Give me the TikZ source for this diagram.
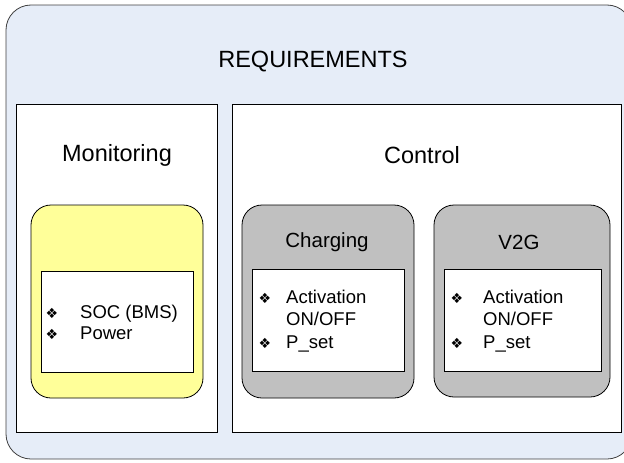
\documentclass[tikz,border=0pt]{standalone}
\usepackage{fontspec}
\setmainfont{Liberation Sans}
\newfontfamily\symfont{DejaVu Sans}
\definecolor{reqblue}{RGB}{230,237,248}
\definecolor{monyellow}{RGB}{255,255,153}
\definecolor{ctrlgray}{RGB}{192,192,192}
\definecolor{edgegray}{RGB}{64,64,64}
% bullet hanging left of the item text
\newcommand{\itm}[1]{\leavevmode\llap{{\symfont\fontsize{14}{12}\selectfont ❖}\hspace{#1}}}
\tikzset{
	frame/.style={draw=black,line width=0.8pt,fill=white,inner sep=0pt},
	roundbox/.style={frame,rounded corners=20pt},
	title/.style={font=\fontsize{23.5}{27}\selectfont,inner sep=0pt},
	subtitle/.style={font=\fontsize{20.5}{24}\selectfont,inner sep=0pt},
	items/.style={font=\fontsize{18.5}{22.5}\selectfont,inner sep=0pt,anchor=base west}
}
\begin{document}
\begin{tikzpicture}[x=1pt,y=-1pt]
\useasboundingbox (0,0) rectangle (624,463);
\begin{scope}
\clip (0,0) rectangle (624,463);
%%% Outer requirements frame
\node[draw=edgegray,line width=0.8pt,fill=reqblue,rounded corners=25pt,
	minimum width=626pt,minimum height=454pt] (req) at (319,232) {};
\end{scope}
\node[title] (reqlbl) at (313,62) {REQUIREMENTS};
%%% Monitoring column
\node[frame,minimum width=201pt,minimum height=328pt] (mon) at (116.5,268) {};
\node[title] (monlbl) at (117,155) {Monitoring};
\node[roundbox,fill=monyellow,minimum width=172pt,minimum height=193pt] (monbox) at (117,301.5) {};
\node[frame,minimum width=152pt,minimum height=101pt] (moninner) at (117,321.5) {};
\node[items,font=\fontsize{18.5}{21}\selectfont] (monitems) at (80,318) {\parbox[t]{110pt}{\raggedright
	\itm{22pt}SOC (BMS)\\
	\itm{22pt}Power}};
%%% Control column
\node[frame,minimum width=389pt,minimum height=328pt] (ctrl) at (426.5,268) {};
\node[title] (ctrllbl) at (422,155) {Control};
%%% Charging
\node[roundbox,fill=ctrlgray,minimum width=172pt,minimum height=193pt] (chg) at (328,301.5) {};
\node[subtitle] (chglbl) at (327,242) {Charging};
\node[frame,minimum width=152pt,minimum height=102pt] (chginner) at (328,320) {};
\node[items] (chgitems) at (286,303) {\parbox[t]{110pt}{\raggedright
	\itm{15pt}Activation\\
	ON/OFF\\
	\itm{15pt}P\_set}};
%%% V2G
\node[roundbox,fill=ctrlgray,minimum width=176pt,minimum height=192pt] (v2g) at (522,301) {};
\node[subtitle] (v2glbl) at (519,242) {V2G};
\node[frame,minimum width=157pt,minimum height=102pt] (v2ginner) at (522.5,320) {};
\node[items] (v2gitems) at (483,303) {\parbox[t]{110pt}{\raggedright
	\itm{20pt}Activation\\
	ON/OFF\\
	\itm{20pt}P\_set}};
\end{tikzpicture}
\end{document}
